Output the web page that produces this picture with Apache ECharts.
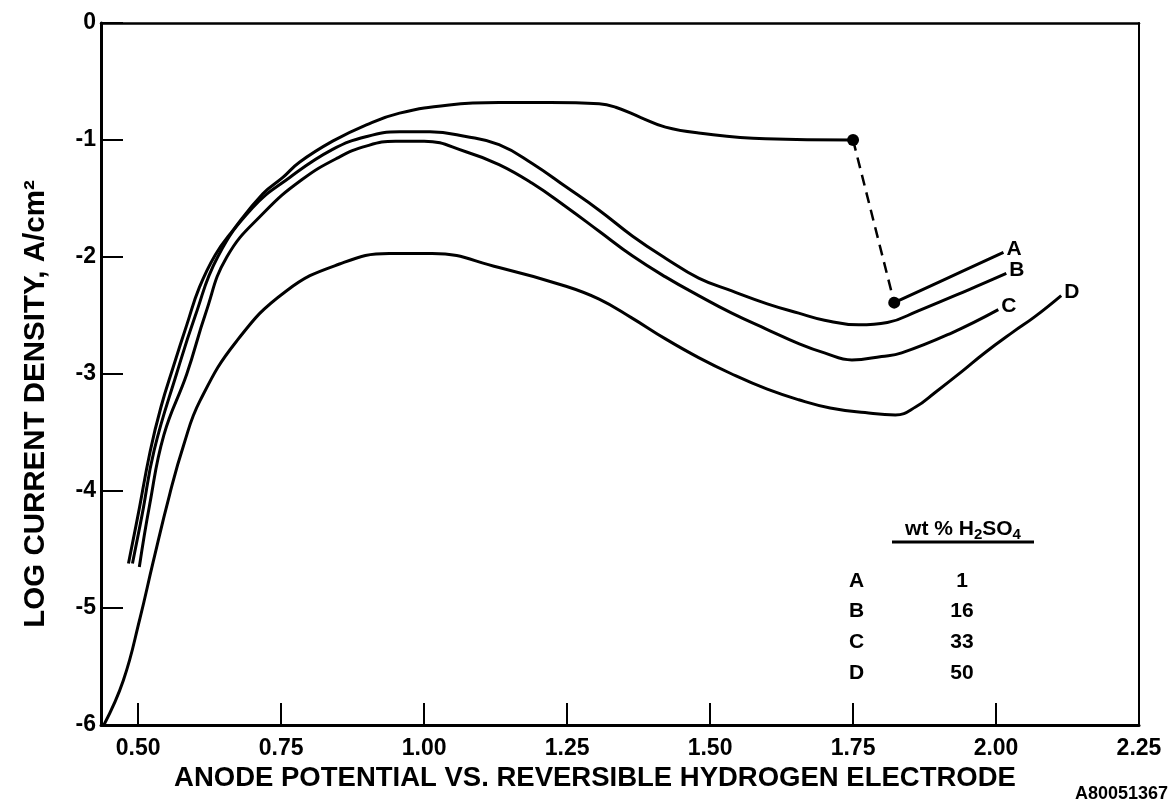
<!DOCTYPE html>
<html>
<head>
<meta charset="utf-8">
<script src="https://cdn.jsdelivr.net/npm/echarts@6/dist/echarts.min.js"></script>
<style>
  html, body { margin: 0; padding: 0; background: #fff; }
  #chart { width: 1171px; height: 812px; }
</style>
</head>
<body>
<div id="chart"></div>
<script>
// Anodic polarization curves, log current density vs. potential (RHE)
const xTickValues = [0.50, 0.75, 1.00, 1.25, 1.50, 1.75, 2.00, 2.25];
const yTickValues = [0, -1, -2, -3, -4, -5, -6];

// curve A (1 wt %) up to the breakdown point
const curveA = [
  [0.483, -4.62], [0.500, -4.20], [0.521, -3.66], [0.540, -3.28], [0.562, -2.93],
  [0.585, -2.58], [0.607, -2.26], [0.635, -1.98], [0.666, -1.77], [0.718, -1.46],
  [0.753, -1.32], [0.782, -1.19], [0.840, -1.01], [0.899, -0.87], [0.957, -0.77],
  [1.044, -0.70], [1.131, -0.68], [1.220, -0.68], [1.306, -0.69], [1.335, -0.72],
  [1.380, -0.81], [1.422, -0.89], [1.480, -0.94], [1.597, -0.99], [1.750, -1.00]
];
// jump from the breakdown point to the recovered branch
const jumpA = [[1.750, -1.00], [1.822, -2.39]];
// curve A after the jump
const tailA = [[1.822, -2.39], [1.920, -2.17], [2.013, -1.96]];
const breakPoints = [[1.750, -1.00], [1.822, -2.39]];

// curve B (16 wt %)
const curveB = [
  [0.490, -4.62], [0.507, -4.20], [0.528, -3.65], [0.567, -3.00], [0.600, -2.50],
  [0.639, -2.00], [0.700, -1.58], [0.765, -1.32], [0.840, -1.08], [0.900, -0.97],
  [0.957, -0.93], [1.010, -0.93], [1.073, -0.97], [1.131, -1.04], [1.189, -1.20],
  [1.248, -1.40], [1.306, -1.60], [1.364, -1.82], [1.422, -2.01], [1.480, -2.18],
  [1.538, -2.29], [1.600, -2.40], [1.655, -2.48], [1.700, -2.54], [1.760, -2.58],
  [1.810, -2.56], [1.864, -2.46], [1.952, -2.28], [2.018, -2.14]
];

// curve C (33 wt %)
const curveC = [
  [0.502, -4.65], [0.520, -4.12], [0.545, -3.52], [0.585, -3.00], [0.618, -2.48],
  [0.655, -2.00], [0.720, -1.62], [0.786, -1.34], [0.850, -1.15], [0.900, -1.05],
  [0.950, -1.01], [1.000, -1.01], [1.073, -1.10], [1.131, -1.21], [1.189, -1.37],
  [1.248, -1.57], [1.306, -1.78], [1.364, -1.99], [1.422, -2.17], [1.480, -2.33],
  [1.538, -2.48], [1.600, -2.62], [1.655, -2.74], [1.700, -2.82], [1.748, -2.88],
  [1.800, -2.85], [1.835, -2.82], [1.922, -2.65], [2.004, -2.45]
];

// curve D (50 wt %)
const curveD = [
  [0.440, -6.00], [0.474, -5.62], [0.503, -5.09], [0.526, -4.61], [0.555, -4.03],
  [0.580, -3.60], [0.608, -3.23], [0.672, -2.72], [0.759, -2.29], [0.852, -2.06],
  [0.939, -1.97], [1.014, -1.97], [1.131, -2.09], [1.248, -2.25], [1.306, -2.36],
  [1.363, -2.52], [1.422, -2.70], [1.480, -2.86], [1.538, -3.00], [1.600, -3.13],
  [1.655, -3.22], [1.710, -3.29], [1.771, -3.33], [1.824, -3.35], [1.860, -3.28],
  [1.893, -3.16], [1.940, -2.98], [1.980, -2.82], [2.030, -2.64], [2.068, -2.51],
  [2.114, -2.33]
];

const curveNames = ['A', 'B', 'C', 'D'];
const tableHeader = 'wt % H{sub|2}SO{sub|4}';
const tableLetters = ['A', 'B', 'C', 'D'];
const tableValues = ['1', '16', '33', '50'];
const xAxisTitle = 'ANODE POTENTIAL VS. REVERSIBLE HYDROGEN ELECTRODE';
const yAxisTitle = 'LOG CURRENT DENSITY, A/cm²';
const drawingNumber = 'A80051367';

const FONT = 'Liberation Sans';
const INK = '#000';

const chart = echarts.init(document.getElementById('chart'), null, { renderer: 'canvas' });

function curve(name, data, labelText) {
  return {
    name: name,
    type: 'line',
    data: data,
    smooth: 0.45,
    showSymbol: false,
    symbol: 'none',
    lineStyle: { color: INK, width: 3 },
    endLabel: labelText ? {
      show: true, formatter: labelText, distance: 3, offset: [0, -3],
      fontFamily: FONT, fontWeight: 'bold', fontSize: 21, color: INK
    } : { show: false },
    silent: true,
    z: 3
  };
}

const tableRowsGraphic = [];
const rowY = [581, 611, 642, 673];
tableLetters.forEach(function (l, i) {
  tableRowsGraphic.push({
    type: 'text', x: 849, y: rowY[i],
    style: { text: l, font: 'bold 21px "' + FONT + '"', fill: INK,
             align: 'left', verticalAlign: 'middle' }
  });
  tableRowsGraphic.push({
    type: 'text', x: 962, y: rowY[i],
    style: { text: tableValues[i], font: 'bold 21px "' + FONT + '"', fill: INK,
             align: 'center', verticalAlign: 'middle' }
  });
});

const option = {
  backgroundColor: '#fff',
  animation: false,
  grid: { left: 101, right: 32, top: 23, bottom: 87, containLabel: false },
  xAxis: [{
    type: 'value', min: 0.435, max: 2.25,
    position: 'bottom',
    name: xAxisTitle, nameLocation: 'middle', nameGap: 37,
    nameTextStyle: { fontFamily: FONT, fontWeight: 'bold', fontSize: 27.5, color: INK,
                     padding: [0, 50, 0, 0] },
    axisLine: { show: true, onZero: false, lineStyle: { color: INK, width: 3 } },
    axisTick: { show: true, inside: true, length: 22, customValues: xTickValues,
                lineStyle: { color: INK, width: 2 } },
    axisLabel: { show: true, customValues: xTickValues, margin: 12,
                 formatter: function (v) { return v.toFixed(2); },
                 fontFamily: FONT, fontWeight: 'bold', fontSize: 23, color: INK },
    splitLine: { show: false }
  }, {
    type: 'value', min: 0.435, max: 2.25, position: 'top',
    axisLine: { show: true, onZero: false, lineStyle: { color: INK, width: 2.5 } },
    axisTick: { show: false }, axisLabel: { show: false }, splitLine: { show: false }
  }],
  yAxis: [{
    type: 'value', min: -6, max: 0, interval: 1,
    position: 'left',
    name: yAxisTitle, nameLocation: 'middle', nameGap: 50, nameRotate: 90,
    nameTextStyle: { fontFamily: FONT, fontWeight: 'bold', fontSize: 29.5, color: INK,
                     padding: [0, 60, 0, 0] },
    axisLine: { show: true, onZero: false, lineStyle: { color: INK, width: 3 } },
    axisTick: { show: true, inside: true, length: 22, customValues: yTickValues,
                lineStyle: { color: INK, width: 2 } },
    axisLabel: { show: true, customValues: yTickValues, margin: 5,
                 formatter: function (v) { return String(v); },
                 fontFamily: FONT, fontWeight: 'bold', fontSize: 23, color: INK },
    splitLine: { show: false }
  }, {
    type: 'value', min: -6, max: 0, position: 'right',
    axisLine: { show: true, onZero: false, lineStyle: { color: INK, width: 2 } },
    axisTick: { show: false }, axisLabel: { show: false }, splitLine: { show: false }
  }],
  series: [
    curve('A', curveA, null),
    {
      name: 'A jump', type: 'line', data: jumpA, showSymbol: false, symbol: 'none',
      lineStyle: { color: INK, width: 2.5, type: [11, 7] }, silent: true, z: 3
    },
    curve('A tail', tailA, curveNames[0]),
    curve('B', curveB, curveNames[1]),
    curve('C', curveC, curveNames[2]),
    curve('D', curveD, curveNames[3]),
    {
      name: 'breakdown', type: 'scatter', data: breakPoints, symbol: 'circle',
      symbolSize: 12, itemStyle: { color: INK, opacity: 1 }, silent: true, z: 4
    }
  ],
  graphic: [
    {
      type: 'text', x: 963, y: 529,
      style: {
        text: tableHeader, align: 'center', verticalAlign: 'middle',
        font: 'bold 21px "' + FONT + '"', fill: INK,
        rich: {
          sub: { font: 'bold 15px "' + FONT + '"', fill: INK, padding: [12, 0, 0, 0] }
        }
      }
    },
    {
      type: 'line', shape: { x1: 892, y1: 542, x2: 1034, y2: 542 },
      style: { stroke: INK, lineWidth: 3 }
    }
  ].concat(tableRowsGraphic).concat([
    {
      type: 'text', x: 1168, y: 794,
      style: { text: drawingNumber, align: 'right', verticalAlign: 'middle',
               font: 'bold 18px "' + FONT + '"', fill: INK }
    }
  ])
};

chart.setOption(option);
</script>
</body>
</html>
